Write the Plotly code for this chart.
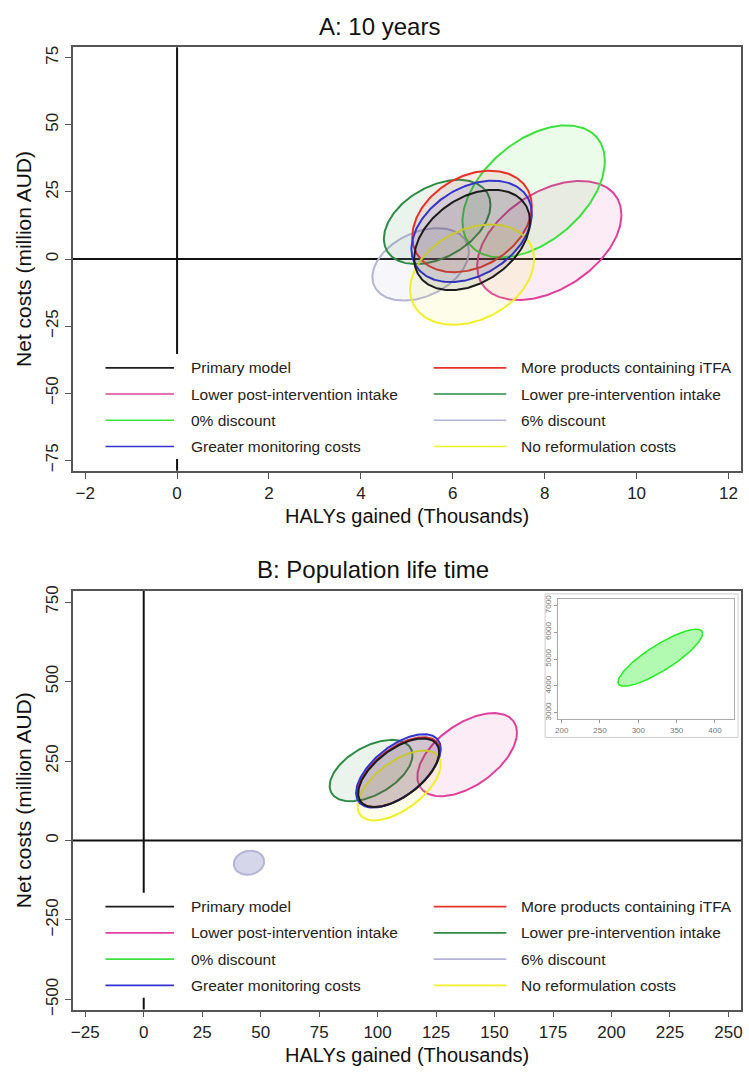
import numpy as np
import plotly.graph_objects as go

W, H = 749, 1074

scenarios = ["Primary model", "More products containing iTFA",
             "Lower post-intervention intake", "Lower pre-intervention intake",
             "0% discount", "6% discount",
             "Greater monitoring costs", "No reformulation costs"]
colors = ["#1c1c1c", "#e8312a", "#e0409c", "#2e8b45",
          "#3ee03e", "#b4b4d8", "#3434d0", "#f0f028"]

# Panel A (10 years): ellipse centre, half-extents and correlation
a_cx = [6.42, 6.42, 8.10, 5.66, 7.76, 5.30, 6.41, 6.42]
a_cy = [7.1, 14.0, 6.9, 13.8, 25.2, -2.0, 10.3, -5.8]
a_sx = [1.26, 1.30, 1.57, 1.16, 1.55, 1.05, 1.31, 1.35]
a_sy = [18.7, 18.9, 22.2, 15.7, 24.6, 13.5, 18.9, 18.7]
a_r = [0.37, 0.30, 0.43, 0.40, 0.46, 0.35, 0.35, 0.30]

# Panel B (population lifetime); 0% discount is shown in the inset
b_cx = [109.0, 109.0, 138.3, 97.2, None, 45.0, 108.9, 109.2]
b_cy = [213.0, 215.0, 270.0, 220.0, None, -70.0, 219.0, 173.0]
b_sx = [17.3, 17.6, 21.3, 17.7, None, 6.5, 18.1, 17.8]
b_sy = [108.0, 110.0, 130.8, 96.5, None, 38.0, 115.5, 110.0]
b_r = [0.6, 0.6, 0.53, 0.5, None, 0.1, 0.6, 0.6]

# Inset: 0% discount, population lifetime
inset_cx, inset_cy, inset_sx, inset_sy, inset_r = 328.7, 5050.0, 55.2, 1063.0, 0.85

a_xticks = list(range(-2, 13, 2))
a_yticks = [-75, -50, -25, 0, 25, 50, 75]
b_xticks = list(range(-25, 251, 25))
b_yticks = [-500, -250, 0, 250, 500, 750]
inset_xticks = [200, 250, 300, 350, 400]
inset_yticks = [3000, 4000, 5000, 6000, 7000]

draw_order = [5, 2, 4, 3, 1, 7, 6, 0]


def ellipse(cx, cy, sx, sy, r):
    t = np.linspace(0, 2 * np.pi, 241)
    th = np.arccos(r)
    return cx + sx * np.cos(t), cy + sy * np.cos(t - th)


def rgba(hexc, a):
    h = hexc.lstrip("#")
    return "rgba(%d,%d,%d,%.3f)" % (int(h[0:2], 16), int(h[2:4], 16), int(h[4:6], 16), a)


fig = go.Figure()

for i in draw_order:
    x, y = ellipse(a_cx[i], a_cy[i], a_sx[i], a_sy[i], a_r[i])
    fig.add_trace(go.Scatter(x=x, y=y, mode="lines", fill="toself",
                             fillcolor=rgba(colors[i], 0.10),
                             line=dict(color=colors[i], width=2),
                             xaxis="x", yaxis="y", showlegend=False, hoverinfo="skip"))
for i in draw_order:
    if b_cx[i] is None:
        continue
    x, y = ellipse(b_cx[i], b_cy[i], b_sx[i], b_sy[i], b_r[i])
    alpha = 0.55 if i == 5 else 0.10
    fig.add_trace(go.Scatter(x=x, y=y, mode="lines", fill="toself",
                             fillcolor=rgba(colors[i], alpha),
                             line=dict(color=colors[i], width=2),
                             xaxis="x2", yaxis="y2", showlegend=False, hoverinfo="skip"))
x, y = ellipse(inset_cx, inset_cy, inset_sx, inset_sy, inset_r)
fig.add_trace(go.Scatter(x=x, y=y, mode="lines", fill="toself",
                         fillcolor=rgba("#22ee22", 0.35),
                         line=dict(color="#22ee22", width=1.5),
                         xaxis="x3", yaxis="y3", showlegend=False, hoverinfo="skip"))

FONT = "Liberation Sans, Arial, sans-serif"
axis_common = dict(showline=True, linecolor="#555555", linewidth=1.5, mirror=True,
                   ticks="outside", ticklen=6, tickcolor="#555555", tickwidth=1.2,
                   showgrid=False, zeroline=False,
                   tickfont=dict(family=FONT, size=17, color="#222222"))

# pixel -> paper helpers
px = lambda v: v / W
py = lambda v: 1 - v / H

A_box = (70, 742, 42.7, 470.6)
B_box = (70, 742, 592, 1015)
I_box = (558.3, 735, 600, 721.7)

# B y-range keeps 750 tick ~11 px below top and -500 ~10 px above bottom
fig.update_layout(
    width=W, height=H, margin=dict(l=0, r=0, t=0, b=0),
    paper_bgcolor="white", plot_bgcolor="white", showlegend=False,
    xaxis=dict(domain=[px(A_box[0]), px(A_box[1])], range=[-2.273, 12.273],
               tickvals=a_xticks, anchor="y", **axis_common),
    yaxis=dict(domain=[py(A_box[3]), py(A_box[2])], range=[-78.9, 78.9],
               tickvals=a_yticks, tickangle=-90, anchor="x", **axis_common),
    xaxis2=dict(domain=[px(B_box[0]), px(B_box[1])], range=[-30.4, 255.4],
                tickvals=b_xticks, anchor="y2", **axis_common),
    yaxis2=dict(domain=[py(B_box[3]), py(B_box[2])], range=[-532.0, 785.0],
                tickvals=b_yticks, tickangle=-90, anchor="x2", **axis_common),
    xaxis3=dict(domain=[px(I_box[0]), px(I_box[1])], range=[195.6, 425],
                tickvals=inset_xticks, anchor="y3", showline=True, linecolor="#aaaaaa",
                linewidth=1, mirror=True, ticks="outside", ticklen=3, tickcolor="#999999",
                showgrid=False, zeroline=False,
                tickfont=dict(family=FONT, size=8, color="#777777")),
    yaxis3=dict(domain=[py(I_box[3]), py(I_box[2])], range=[2753, 7246],
                tickvals=inset_yticks, tickangle=-90, anchor="x3", showline=True,
                linecolor="#aaaaaa", linewidth=1, mirror=True, ticks="outside", ticklen=3,
                tickcolor="#999999", showgrid=False, zeroline=False,
                tickfont=dict(family=FONT, size=8, color="#777777")),
)

shapes = []
annotations = []
for xr, yr in [("x", "y"), ("x2", "y2")]:
    shapes.append(dict(type="line", xref=xr + " domain", yref=yr, x0=0, x1=1, y0=0, y1=0,
                       line=dict(color="#111111", width=2), layer="below"))
    shapes.append(dict(type="line", xref=xr, yref=yr + " domain", x0=0, x1=0, y0=0, y1=1,
                       line=dict(color="#111111", width=2), layer="below"))

# inset frame
shapes.append(dict(type="rect", xref="paper", yref="paper",
                   x0=px(545), x1=px(739), y0=py(740), y1=py(595),
                   line=dict(color="#cccccc", width=1), fillcolor="white", layer="below"))


def add_legend(box):
    x0, x1, y0, y1 = box
    top = y1 - 104
    shapes.append(dict(type="rect", xref="paper", yref="paper",
                       x0=px(95), x1=px(735), y0=py(y1 - 12), y1=py(top - 14),
                       line=dict(width=0), fillcolor="white", layer="above"))
    for i, name in enumerate(scenarios):
        row, col = divmod(i, 2)
        yy = top + row * 26.5
        lx0, lx1, tx = (103, 172, 187) if col == 0 else (433, 506, 519)
        shapes.append(dict(type="line", xref="paper", yref="paper",
                           x0=px(lx0), x1=px(lx1), y0=py(yy), y1=py(yy),
                           line=dict(color=colors[i], width=1.6), layer="above"))
        annotations.append(dict(xref="paper", yref="paper", x=px(tx), y=py(yy),
                                text=name, showarrow=False, xanchor="left", yanchor="middle",
                                font=dict(family=FONT, size=15.5, color="#222222")))


add_legend(A_box)
add_legend(B_box)

# titles
annotations.append(dict(xref="paper", yref="paper", x=px(379), y=py(22), text="A: 10 years",
                        showarrow=False, xanchor="center", yanchor="middle",
                        font=dict(family=FONT, size=24, color="#111111")))
annotations.append(dict(xref="paper", yref="paper", x=px(372), y=py(570),
                        text="B: Population life time", xanchor="center", yanchor="middle",
                        showarrow=False, font=dict(family=FONT, size=24, color="#111111")))
for box in (A_box, B_box):
    x0, x1, y0, y1 = box
    annotations.append(dict(xref="paper", yref="paper", x=px(406), y=py(y1 + 46),
                            text="HALYs gained (Thousands)", showarrow=False,
                            xanchor="center", yanchor="middle",
                            font=dict(family=FONT, size=20, color="#111111")))
    annotations.append(dict(xref="paper", yref="paper", x=px(20), y=py((y0 + y1) / 2),
                            text="Net costs (million AUD)", showarrow=False, textangle=-90,
                            xanchor="center", yanchor="middle",
                            font=dict(family=FONT, size=21, color="#111111")))

fig.update_layout(shapes=shapes, annotations=annotations)
fig.write_html("out.html")
